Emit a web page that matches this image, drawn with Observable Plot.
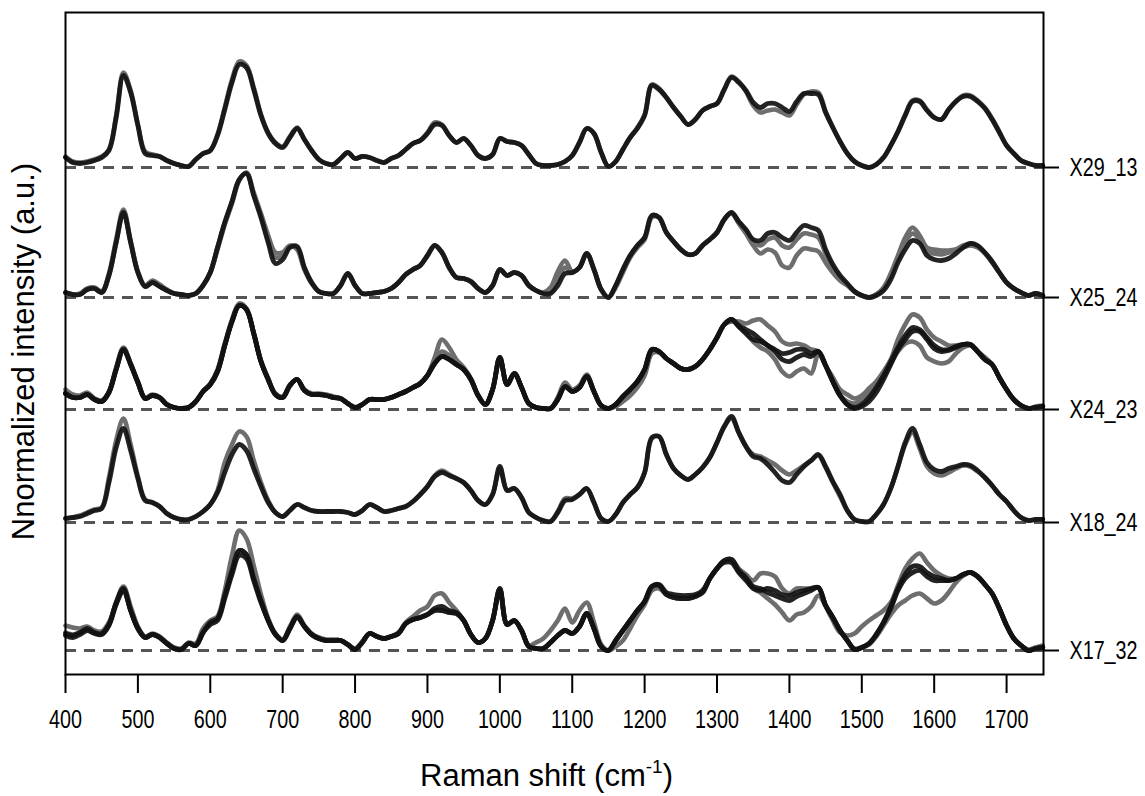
<!DOCTYPE html>
<html><head><meta charset="utf-8">
<script src="https://cdn.jsdelivr.net/npm/d3@7"></script>
<script src="https://cdn.jsdelivr.net/npm/@observablehq/plot@0.6"></script>
<style>html,body{margin:0;padding:0;background:#fff;}</style>
</head><body><div id="chart"></div>
<script>
// Raman shift sampling grid (cm-1), 400..1750 every 10
const shifts = d3.range(400, 1751, 10);
const sampleNames = ["X29_13", "X25_24", "X24_23", "X18_24", "X17_32"];
const baselines = [507, 377, 265, 152, 24];
const xTicks = [400, 500, 600, 700, 800, 900, 1000, 1100, 1200, 1300, 1400, 1500, 1600, 1700];
const xTitle = "Raman shift (cm-1)";
const yTitle = "Nnormalized intensity (a.u.)";

// Spectra heights above each sample's baseline (a.u.)
const X29_13_dark = [10,5,4,5,7,10,17,50,92,75,
 42,14,12,11,7,4,2,1,8,14,
 17,32,58,85,103,100,78,52,34,24,
 20,30,39,28,17,8,4,3,9,15,
 9,11,10,7,5,9,12,18,24,27,
 34,43,42,32,25,29,22,12,9,13,
 29,26,25,22,13,4,2,2,3,6,
 12,25,39,34,15,1,6,18,30,39,
 52,82,78,70,60,51,43,48,57,61,
 64,78,90,85,77,65,60,64,64,60,
 56,66,74,74,73,55,40,26,14,6,
 2,0,3,10,22,36,52,66,66,57,
 50,48,58,66,71,71,66,59,48,35,
 22,14,7,4,2,2];
const X29_13_light = [11,6,5,6,8,11,18,52,95,77,
 43,16,13,11,7,4,2,1,8,14,
 17,33,60,88,106,102,80,53,35,25,
 21,31,40,28,17,8,4,3,9,15,
 9,11,10,7,5,9,12,18,24,27,
 35,45,43,32,25,29,22,12,9,13,
 29,26,25,22,13,4,2,2,3,6,
 12,25,39,34,15,1,6,18,30,40,
 53,83,79,70,60,51,43,48,57,61,
 64,78,91,86,76,62,55,57,58,55,
 52,63,73,76,75,56,40,26,14,6,
 2,0,3,10,22,36,53,67,67,58,
 50,48,58,66,72,72,67,60,49,36,
 22,14,7,4,2,2];

const X25_24_dark = [5,3,3,8,9,5,22,55,85,55,
 25,11,15,11,7,4,3,2,4,12,
 25,50,75,96,118,124,102,80,55,34,
 38,50,51,30,15,6,4,4,12,24,
 12,4,4,5,6,9,15,23,28,32,
 42,52,45,30,20,19,16,9,5,12,
 28,22,25,22,12,7,4,4,12,24,
 25,30,44,28,8,0,12,28,42,52,
 60,82,80,65,56,48,43,44,52,58,
 65,78,85,76,68,58,57,64,65,60,
 57,65,72,70,67,48,33,22,14,6,
 2,0,2,7,18,35,48,57,54,42,
 38,37,39,44,50,54,52,45,36,25,
 15,9,5,2,4,2];
const X25_24_lightA = [5,3,4,9,10,6,24,58,88,57,
 26,12,17,13,8,4,3,2,4,12,
 25,48,73,94,117,125,105,84,62,45,
 45,52,48,28,14,6,4,4,12,24,
 12,4,4,5,6,9,15,23,28,32,
 42,52,45,30,20,19,16,9,5,12,
 28,22,25,22,12,7,5,10,26,37,
 26,30,44,28,8,0,10,25,40,50,
 58,80,80,65,56,48,43,44,52,58,
 65,78,84,74,64,52,44,48,45,32,
 30,42,49,48,46,35,25,17,12,6,
 2,0,3,10,24,42,60,70,62,50,
 48,47,47,48,50,52,50,44,35,25,
 15,9,5,2,4,2];
const X25_24_lightB = [5,3,3,8,9,5,22,55,85,55,
 25,11,15,11,7,4,3,2,4,12,
 25,50,75,96,118,124,103,82,58,40,
 42,51,49,29,15,6,4,4,12,24,
 12,4,4,5,6,9,15,23,28,32,
 42,52,45,30,20,19,16,9,5,12,
 28,22,25,22,12,7,4,6,18,30,
 25,30,44,28,8,0,12,28,42,52,
 60,82,80,65,56,48,43,44,52,58,
 65,78,85,76,66,56,52,58,60,52,
 50,58,64,63,60,44,30,20,13,6,
 2,0,3,9,22,40,55,64,58,46,
 44,43,45,48,52,54,51,45,36,25,
 15,9,5,2,4,2];

const X24_23_dark = [16,12,12,15,10,8,17,40,60,45,
 27,11,14,12,5,2,1,2,8,18,
 25,38,64,88,104,100,76,48,30,15,
 12,24,30,19,15,15,14,12,11,6,
 2,5,10,10,10,12,15,18,22,26,
 34,46,53,50,45,40,30,14,5,20,
 52,25,36,22,6,2,1,1,10,23,
 18,22,33,18,4,1,5,13,20,28,
 40,60,58,51,46,41,40,43,50,60,
 72,85,90,83,76,70,68,64,58,50,
 48,52,55,53,58,44,28,14,5,1,
 3,8,17,30,45,60,70,78,78,70,
 61,58,59,62,65,65,58,50,45,32,
 20,10,4,1,2,3];
const X24_23_darkB = [16,12,12,15,10,8,17,40,60,45,
 27,11,14,12,5,2,1,2,8,18,
 25,38,64,88,104,100,76,48,30,15,
 12,24,30,19,15,15,14,12,11,6,
 2,5,10,10,10,12,15,18,22,26,
 34,46,53,50,45,40,30,14,5,20,
 52,25,36,22,6,2,1,1,10,23,
 18,22,33,18,4,1,5,13,20,28,
 40,60,58,51,46,41,40,43,50,60,
 72,85,90,84,80,76,70,64,60,56,
 57,60,60,56,58,44,28,14,5,2,
 5,12,22,34,48,62,74,82,80,72,
 64,60,60,63,65,65,58,50,45,32,
 20,10,4,1,2,3];
const X24_23_lightA = [20,15,14,17,11,9,18,42,62,46,
 28,12,15,12,5,2,1,2,8,18,
 26,40,66,90,106,101,77,49,31,16,
 13,25,30,20,16,16,15,13,11,6,
 2,5,10,10,10,12,15,18,22,26,
 34,52,70,62,50,42,31,14,5,20,
 50,25,36,22,6,2,1,1,12,27,
 20,24,35,18,4,1,3,8,14,22,
 34,56,57,51,46,41,40,43,50,60,
 72,85,88,88,86,89,90,84,78,68,
 65,66,64,60,58,44,32,20,15,11,
 14,21,28,38,50,70,85,95,92,80,
 72,68,64,64,65,65,58,52,45,32,
 20,10,4,1,3,4];
const X24_23_lightB = [17,13,12,15,10,8,17,41,61,46,
 27,11,14,12,5,2,1,2,8,18,
 25,38,64,88,104,100,76,48,30,15,
 12,24,30,19,15,15,14,12,11,6,
 2,5,10,10,10,12,15,18,22,26,
 34,48,58,54,47,40,30,14,5,20,
 52,25,36,22,6,2,1,1,10,23,
 18,22,33,18,4,1,5,13,20,28,
 40,60,58,51,46,41,40,43,50,60,
 72,85,90,83,76,68,62,58,50,38,
 33,38,41,36,55,44,28,14,8,6,
 10,16,24,34,46,58,66,68,64,52,
 48,46,48,56,62,64,58,52,45,32,
 20,10,4,1,2,3];

const X18_24_dark = [4,5,6,9,12,14,40,75,94,72,
 44,22,20,16,9,5,3,3,6,11,
 18,30,50,68,78,72,54,36,20,10,
 6,12,18,15,12,11,11,11,11,10,
 8,12,18,15,11,12,14,16,21,28,
 36,46,50,47,44,40,32,22,18,28,
 56,32,34,25,10,5,2,1,10,22,
 23,28,34,20,4,1,8,20,28,35,
 50,85,86,68,54,47,43,48,55,65,
 80,96,106,90,76,66,64,58,50,42,
 40,48,56,62,68,56,41,28,12,3,
 1,1,8,18,34,56,80,94,78,60,
 53,51,54,56,58,57,52,45,37,28,
 21,12,5,2,3,3];
const X18_24_light = [4,5,7,10,13,15,45,82,104,78,
 46,23,20,16,9,5,3,3,6,11,
 18,32,60,78,91,86,62,40,22,10,
 6,12,18,15,12,11,11,11,11,10,
 8,12,18,15,11,12,14,16,21,28,
 36,47,52,48,44,40,32,22,18,28,
 54,32,34,25,10,5,2,1,11,24,
 24,28,34,20,4,1,8,20,28,35,
 50,84,86,68,54,47,43,48,55,65,
 80,96,104,90,76,68,66,62,58,52,
 48,52,57,62,67,55,40,26,12,3,
 1,1,8,18,34,56,78,90,74,56,
 49,47,50,54,57,56,51,45,37,28,
 21,12,5,2,3,3];

const X17_32_dark = [17,15,18,22,18,17,26,48,62,40,
 22,13,16,13,7,2,1,7,5,18,
 28,32,55,80,100,96,72,50,30,16,
 10,22,34,24,16,12,10,10,10,6,
 1,8,17,14,12,14,17,27,31,33,
 36,40,40,38,37,30,16,8,12,30,
 62,26,30,20,4,2,2,8,15,20,
 17,24,37,22,4,0,10,20,30,40,
 49,64,65,56,53,52,52,54,58,72,
 82,90,91,80,73,64,62,58,55,52,
 50,54,57,60,63,45,33,20,10,1,
 3,7,16,28,42,60,72,78,80,74,
 70,70,70,72,76,78,74,66,57,42,
 25,12,5,0,2,3];
const X17_32_darkB = [15,13,16,20,17,16,25,46,60,40,
 22,13,16,13,7,2,1,7,5,18,
 26,30,52,76,95,92,70,48,30,16,
 10,22,33,24,16,12,10,10,10,6,
 1,8,17,14,12,14,17,27,31,33,
 36,42,44,40,38,30,16,8,12,30,
 60,26,30,20,4,2,2,8,15,20,
 17,24,37,22,4,0,10,20,30,40,
 49,64,66,58,56,55,55,56,60,72,
 82,88,88,78,70,62,60,62,60,56,
 55,58,60,62,63,45,33,20,10,1,
 3,7,16,28,44,62,76,84,84,78,
 74,72,70,72,76,78,74,66,57,42,
 25,12,5,0,2,3];
const X17_32_lightA = [25,23,22,24,20,19,28,48,64,44,
 24,14,17,14,8,3,2,8,7,22,
 30,34,60,95,120,112,85,56,32,17,
 11,24,36,25,17,13,11,11,10,6,
 2,9,17,14,12,14,18,28,34,40,
 44,55,57,48,40,30,16,8,12,30,
 62,26,30,20,5,8,12,20,30,42,
 28,40,48,28,6,0,4,10,22,35,
 46,60,62,56,53,52,52,54,58,72,
 82,90,91,82,76,70,77,77,74,62,
 57,62,62,62,63,45,30,18,15,17,
 24,30,35,40,48,65,82,92,97,88,
 80,75,72,72,75,78,74,66,57,42,
 25,12,5,1,3,5];
const X17_32_lightB = [18,16,18,22,18,17,26,47,61,40,
 22,13,16,13,7,2,1,7,5,18,
 28,32,55,80,100,96,72,50,30,16,
 10,22,34,24,16,12,10,10,10,6,
 1,8,17,14,12,14,17,27,31,33,
 36,40,40,38,37,30,16,8,12,30,
 62,26,30,20,4,2,2,8,15,20,
 17,24,37,22,4,0,10,20,30,40,
 49,64,65,56,53,52,52,54,58,72,
 82,90,90,80,72,62,58,52,46,38,
 30,36,38,44,55,45,33,20,10,2,
 3,6,14,25,36,45,50,55,57,52,
 47,50,58,68,75,78,74,66,57,42,
 25,12,5,0,2,3];

const spectra = [
  {sample: "X29_13", tone: "light", values: X29_13_light},
  {sample: "X29_13", tone: "dark", values: X29_13_dark},
  {sample: "X25_24", tone: "light", values: X25_24_lightA},
  {sample: "X25_24", tone: "light", values: X25_24_lightB},
  {sample: "X25_24", tone: "dark", values: X25_24_dark},
  {sample: "X24_23", tone: "light", values: X24_23_lightA},
  {sample: "X24_23", tone: "light", values: X24_23_lightB},
  {sample: "X24_23", tone: "dark", values: X24_23_darkB},
  {sample: "X24_23", tone: "dark", values: X24_23_dark},
  {sample: "X18_24", tone: "light", values: X18_24_light},
  {sample: "X18_24", tone: "dark", values: X18_24_dark},
  {sample: "X17_32", tone: "light", values: X17_32_lightA},
  {sample: "X17_32", tone: "light", values: X17_32_lightB},
  {sample: "X17_32", tone: "dark", values: X17_32_darkB},
  {sample: "X17_32", tone: "dark", values: X17_32_dark}
];

const rows = [];
spectra.forEach((s, k) => {
  if (s.values.length !== shifts.length) console.error("length mismatch", s.sample, k, s.values.length);
  const base = baselines[sampleNames.indexOf(s.sample)];
  s.values.forEach((v, i) => rows.push({id: k, tone: s.tone, shift: shifts[i], intensity: base + v}));
});

const fontMain = "'Liberation Sans', Arial, Helvetica, sans-serif";

const chart = Plot.plot({
  width: 1145, height: 796,
  marginLeft: 65, marginRight: 102, marginTop: 12, marginBottom: 122,
  style: {fontFamily: fontMain, fontSize: "25px", background: "#fff", color: "#000"},
  x: {domain: [400, 1751]},
  y: {domain: [0, 662]},
  marks: [
    Plot.ruleY(baselines, {stroke: "#555", strokeWidth: 3.2, strokeDasharray: "11,8"}),
    Plot.line(rows.filter(d => d.tone === "light"), {x: "shift", y: "intensity", z: "id", stroke: "#6e6e6e", strokeWidth: 4.6, curve: "catmull-rom"}),
    Plot.line(rows.filter(d => d.tone === "dark"), {x: "shift", y: "intensity", z: "id", stroke: "#111", strokeOpacity: 0.92, strokeWidth: 4.8, curve: "catmull-rom"}),
    Plot.frame({stroke: "#000", strokeWidth: 2}),
    Plot.axisX({ticks: xTicks, tickSize: 19, tickPadding: 17, fontSize: 25, label: null, strokeWidth: 2, tickFormat: d => String(d)}),
    Plot.axisY({anchor: "right", ticks: baselines, tickFormat: d => sampleNames[baselines.indexOf(d)], tickSize: 15, tickPadding: 11, fontSize: 25, label: null, strokeWidth: 2}),
    Plot.text([xTitle], {text: d => d, frameAnchor: "bottom", textAnchor: "middle", lineAnchor: "top", dx: -8, dy: 89, fontSize: 31, className: "xtitle"}),
    Plot.text([yTitle], {text: d => d, frameAnchor: "left", textAnchor: "middle", lineAnchor: "middle", rotate: -90, dx: -41, dy: 8, fontSize: 31})
  ]
});
document.getElementById("chart").appendChild(chart);

// condensed tick labels (horizontal squeeze about each label's anchor)
chart.querySelectorAll('g[aria-label="x-axis tick label"] text, g[aria-label="y-axis tick label"] text').forEach(t => {
  t.setAttribute("font-size", "25");
  const bb = t.getBBox();
  const isStart = t.closest('g[aria-label="y-axis tick label"]') !== null;
  const x0 = isStart ? bb.x : bb.x + bb.width / 2;
  const prev = t.getAttribute("transform") || "";
  t.setAttribute("transform", `${prev} translate(${x0.toFixed(2)},0) scale(0.79,1) translate(${(-x0).toFixed(2)},0)`.trim());
});
// superscript in x title
const xt = chart.querySelector("g.xtitle text");
if (xt) {
  const ns = "http://www.w3.org/2000/svg";
  xt.textContent = "";
  const a = document.createElementNS(ns, "tspan"); a.textContent = "Raman shift (cm";
  const b = document.createElementNS(ns, "tspan"); b.textContent = "-1"; b.setAttribute("font-size", "19"); b.setAttribute("dy", "-13");
  const c = document.createElementNS(ns, "tspan"); c.textContent = ")"; c.setAttribute("dy", "13");
  xt.append(a, b, c);
}
</script>
</body></html>
